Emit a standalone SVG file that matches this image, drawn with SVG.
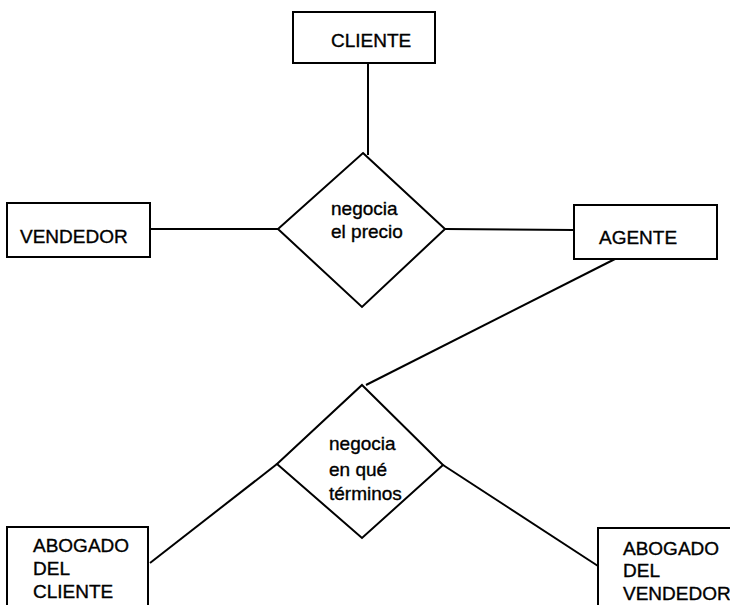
<svg xmlns="http://www.w3.org/2000/svg" width="730" height="605" viewBox="0 0 730 605">
<style>
.box{fill:#fff;stroke:#000;stroke-width:2}
.dia{fill:#fff;stroke:#000;stroke-width:2}
.ln{stroke:#000;stroke-width:2;fill:none}
text{font-family:"Liberation Sans",Arial,sans-serif;font-size:19px;fill:#000;stroke:#000;stroke-width:0.35}
</style>
<rect width="730" height="605" fill="#fff"/>
<g id="connectors">
<line class="ln" x1="368" y1="63" x2="368" y2="155"/>
<line class="ln" x1="150" y1="229" x2="278" y2="229"/>
<line class="ln" x1="445" y1="229" x2="574" y2="230"/>
<line class="ln" x1="615" y1="259" x2="366" y2="385"/>
<line class="ln" x1="150" y1="563" x2="277" y2="464"/>
<line class="ln" x1="443" y1="465" x2="598" y2="566"/>
</g>
<g id="cliente">
<rect class="box" x="293" y="12" width="142" height="51"/>
<text x="331" y="47">CLIENTE</text>
</g>
<g id="vendedor">
<rect class="box" x="7" y="203" width="143" height="54"/>
<text x="20" y="243">VENDEDOR</text>
</g>
<g id="agente">
<rect class="box" x="574" y="205" width="143" height="54"/>
<text x="599" y="244">AGENTE</text>
</g>
<g id="negocia-precio">
<polygon class="dia" points="363,153 445,229 362,307 278,229"/>
<text x="331" y="215">negocia</text>
<text x="331" y="238">el precio</text>
</g>
<g id="negocia-terminos">
<polygon class="dia" points="362,385 443,465 362,538 277,464"/>
<text x="329" y="450">negocia</text>
<text x="329" y="476">en qué</text>
<text x="329" y="500">términos</text>
</g>
<g id="abogado-cliente">
<rect class="box" x="7" y="527" width="141" height="90"/>
<text x="33" y="552">ABOGADO</text>
<text x="33" y="575">DEL</text>
<text x="33" y="598">CLIENTE</text>
</g>
<g id="abogado-vendedor">
<rect class="box" x="598" y="528" width="140" height="90"/>
<text x="623" y="555">ABOGADO</text>
<text x="623" y="577">DEL</text>
<text x="623" y="600">VENDEDOR</text>
</g>
</svg>
